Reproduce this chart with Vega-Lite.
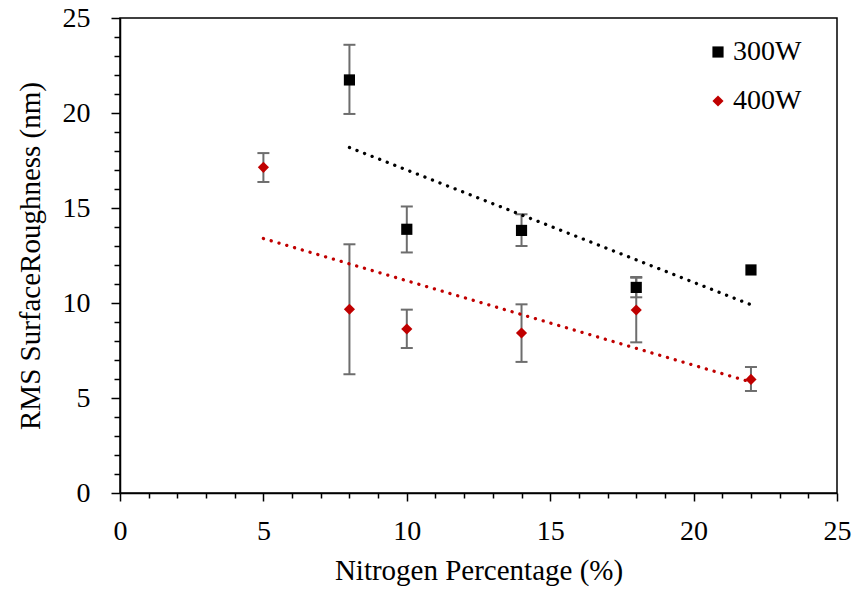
{
  "$schema": "https://vega.github.io/schema/vega-lite/v6.json",
  "width": 717,
  "height": 475,
  "autosize": {"type": "none"},
  "padding": {"left": 120, "top": 18, "right": 19, "bottom": 97},
  "background": "white",
  "config": {
    "view": {"stroke": "black", "strokeWidth": 1.5},
    "font": "Liberation Serif",
    "axis": {
      "domainColor": "black", "domainWidth": 1.5,
      "tickColor": "black", "tickWidth": 1.5,
      "labelColor": "black", "labelFont": "Liberation Serif", "labelFontSize": 28,
      "titleFont": "Liberation Serif", "titleFontSize": 29, "titleFontWeight": "normal", "titleColor": "black",
      "grid": false, "labelOverlap": false, "labelFlush": false
    },
    "legend": {"labelFont": "Liberation Serif", "labelFontSize": 28, "labelColor": "black"}
  },
  "data": {"values": [
    {"series": "300W", "x": 8, "y": 21.74, "lo": 19.95, "hi": 23.59},
    {"series": "300W", "x": 10, "y": 13.88, "lo": 12.66, "hi": 15.08},
    {"series": "300W", "x": 14, "y": 13.82, "lo": 13.0, "hi": 14.67},
    {"series": "300W", "x": 18, "y": 10.82, "lo": 10.3, "hi": 11.37},
    {"series": "300W", "x": 22, "y": 11.74, "lo": null, "hi": null},
    {"series": "400W", "x": 5, "y": 17.14, "lo": 16.37, "hi": 17.89},
    {"series": "400W", "x": 8, "y": 9.67, "lo": 6.25, "hi": 13.09},
    {"series": "400W", "x": 10, "y": 8.63, "lo": 7.63, "hi": 9.65},
    {"series": "400W", "x": 14, "y": 8.42, "lo": 6.9, "hi": 9.93},
    {"series": "400W", "x": 18, "y": 9.63, "lo": 7.93, "hi": 11.33},
    {"series": "400W", "x": 22, "y": 5.98, "lo": 5.37, "hi": 6.63}
  ]},
  "encoding": {
    "x": {
      "field": "x", "type": "quantitative",
      "scale": {"domain": [0, 25], "nice": false, "zero": false},
      "axis": {
        "title": "Nitrogen Percentage (%)",
        "values": [0,1,2,3,4,5,6,7,8,9,10,11,12,13,14,15,16,17,18,19,20,21,22,23,24,25],
        "labelExpr": "datum.value % 5 === 0 ? datum.label : ''",
        "tickSize": {"condition": {"test": "datum.value % 5 === 0", "value": 8}, "value": 5},
        "labelPadding": 16,
        "titlePadding": 11
      }
    },
    "y": {
      "field": "y", "type": "quantitative",
      "scale": {"domain": [0, 25], "nice": false, "zero": false},
      "axis": {
        "title": "RMS SurfaceRoughness (nm)",
        "values": [0,1,2,3,4,5,6,7,8,9,10,11,12,13,14,15,16,17,18,19,20,21,22,23,24,25],
        "labelExpr": "datum.value % 5 === 0 ? datum.label : ''",
        "tickSize": {"condition": {"test": "datum.value % 5 === 0", "value": 9}, "value": 6},
        "labelPadding": 21,
        "titlePadding": 17
      }
    }
  },
  "layer": [
    {
      "transform": [{"filter": "isValid(datum.lo)"}],
      "mark": {"type": "rule", "color": "#6d6d6d", "strokeWidth": 2},
      "encoding": {"y": {"field": "lo", "type": "quantitative"}, "y2": {"field": "hi"}}
    },
    {
      "transform": [{"filter": "isValid(datum.lo)"}],
      "mark": {"type": "tick", "orient": "horizontal", "color": "#6d6d6d", "size": 12, "thickness": 2, "opacity": 1},
      "encoding": {"y": {"field": "lo", "type": "quantitative"}}
    },
    {
      "transform": [{"filter": "isValid(datum.hi)"}],
      "mark": {"type": "tick", "orient": "horizontal", "color": "#6d6d6d", "size": 12, "thickness": 2, "opacity": 1},
      "encoding": {"y": {"field": "hi", "type": "quantitative"}}
    },
    {
      "transform": [{"regression": "y", "on": "x", "groupby": ["series"]}],
      "mark": {"type": "line", "strokeWidth": 3.3, "strokeDash": [0.1, 8], "strokeCap": "round"},
      "encoding": {
        "detail": {"field": "series"},
        "color": {"condition": {"test": "datum.series === '300W'", "value": "#000000"}, "value": "#c00000"}
      }
    },
    {
      "mark": {"type": "point", "filled": true, "opacity": 1, "size": 125},
      "encoding": {
        "color": {
          "field": "series", "type": "nominal",
          "scale": {"domain": ["300W", "400W"], "range": ["#000000", "#c00000"]},
          "legend": {"orient": "none", "legendX": 584, "legendY": 20, "title": null, "symbolSize": 125, "rowPadding": 21, "labelOffset": 1, "padding": 0, "labelFontSize": 28, "labelFont": "Liberation Serif"}
        },
        "shape": {
          "field": "series", "type": "nominal",
          "scale": {"domain": ["300W", "400W"], "range": ["square", "diamond"]}
        }
      }
    }
  ]
}
